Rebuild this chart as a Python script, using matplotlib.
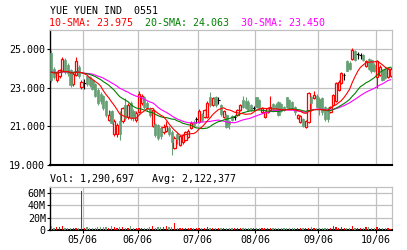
import matplotlib
matplotlib.use('Agg')
import matplotlib.pyplot as plt
import pandas as pd

# daily OHLC, mid-Apr to mid-Oct 2006
opens = [24.8, 24.0, 23.4, 23.6, 23.85, 24.45, 24.2, 23.95, 23.2, 23.65,
         24.1, 23.05, 23.25, 23.6, 23.55, 23.4, 23.2, 22.9, 22.7, 22.6,
         22.3, 21.35, 21.8, 20.6, 20.6, 21.3, 21.3, 22.1, 21.5, 22.2,
         21.8, 21.35, 21.75, 22.2, 22.5, 22.2, 21.9, 21.0, 21.1, 21.05,
         20.9, 20.7, 20.75, 20.9, 20.7, 19.9, 20.6, 20.05, 20.2, 20.3,
         20.45, 20.9, 21.25, 21.4, 21.25, 21.65, 21.5, 21.5, 22.5, 22.1,
         22.5, 22.35, 22.1, 21.5, 21.6, 21.3, 21.55, 21.5, 21.6, 21.85,
         22.35, 22.3, 22.25, 22.1, 21.95, 22.5, 22.35, 21.75, 21.5, 21.75,
         21.85, 22.15, 22.1, 22.25, 22.15, 22.0, 22.5, 22.35, 22.25, 22.0,
         21.45, 21.25, 21.4, 20.95, 21.25, 22.55, 22.45, 22.6, 22.4, 22.45,
         22.0, 21.95, 21.75, 22.1, 22.3, 22.9, 23.25, 23.65, 24.4, 24.3,
         24.5, 24.9, 24.75, 24.7, 24.7, 24.15, 24.5, 24.45, 24.2, 23.55,
         23.65, 23.9, 24.0, 23.55, 23.6]
closes = [23.4, 23.55, 23.8, 23.9, 24.5, 23.8, 23.75, 23.15, 23.7, 24.4,
          23.6, 23.3, 23.25, 23.2, 23.15, 22.95, 22.6, 22.2, 22.3, 21.95,
          21.6, 21.6, 21.2, 21.3, 21.05, 20.6, 21.95, 21.45, 22.1, 21.45,
          21.5, 21.7, 22.7, 22.6, 22.0, 21.9, 21.6, 21.85, 20.55, 20.4,
          20.5, 20.95, 21.0, 20.6, 20.2, 20.4, 20.35, 20.5, 20.55, 20.7,
          20.75, 21.2, 21.05, 21.4, 21.8, 21.35, 21.85, 22.2, 22.1, 22.45,
          22.1, 22.35, 21.65, 21.8, 20.95, 21.1, 21.35, 21.5, 21.85, 22.1,
          22.0, 21.95, 21.85, 21.85, 21.95, 22.0, 21.95, 21.95, 21.75, 21.95,
          22.0, 21.85, 21.9, 21.6, 21.8, 21.85, 22.0, 21.95, 21.95, 21.75,
          21.6, 21.55, 21.0, 21.3, 22.75, 22.2, 22.65, 22.0, 21.9, 21.75,
          21.4, 21.4, 22.0, 22.65, 23.25, 23.3, 23.75, 23.65, 23.9, 24.0,
          24.95, 24.45, 24.75, 24.7, 24.45, 24.4, 24.0, 23.85, 23.9, 24.4,
          24.1, 23.4, 23.5, 24.0, 24.0]
highs = [24.95, 24.1, 23.9, 24.0, 24.6, 24.55, 24.3, 24.0, 23.8, 24.6,
         24.2, 23.4, 23.45, 23.7, 23.6, 23.45, 23.25, 23.0, 22.8, 22.65,
         22.35, 21.85, 21.85, 21.4, 21.2, 21.8, 22.0, 22.45, 22.2, 22.3,
         21.9, 21.8, 22.85, 22.7, 22.6, 22.3, 22.0, 21.95, 21.2, 21.1,
         21.0, 21.1, 21.3, 21.0, 20.8, 20.5, 20.7, 20.55, 20.6, 20.75,
         20.85, 21.3, 21.35, 21.5, 21.9, 21.7, 21.9, 22.3, 22.8, 22.55,
         22.6, 22.55, 22.15, 21.85, 21.65, 21.35, 21.6, 21.6, 21.9, 22.15,
         22.6, 22.5, 22.35, 22.15, 22.05, 22.55, 22.4, 22.0, 21.8, 22.0,
         22.6, 22.2, 22.2, 22.3, 22.2, 22.05, 22.55, 22.4, 22.3, 22.05,
         21.65, 21.6, 21.45, 21.35, 22.8, 22.6, 22.85, 22.7, 22.5, 22.5,
         22.05, 22.0, 22.05, 22.7, 23.3, 23.4, 23.8, 23.75, 24.45, 24.4,
         25.05, 24.95, 24.85, 24.8, 24.75, 24.45, 24.55, 24.5, 24.3, 24.45,
         24.2, 24.0, 24.05, 24.05, 24.1]
lows = [23.3, 23.45, 23.3, 23.5, 23.8, 23.7, 23.6, 23.05, 23.1, 23.6,
        23.5, 22.95, 22.95, 23.1, 23.05, 22.9, 22.5, 22.1, 22.15, 21.85,
        21.5, 21.3, 21.1, 20.5, 20.45, 20.3, 21.2, 21.35, 21.4, 21.35,
        21.3, 21.25, 21.7, 22.1, 21.9, 21.8, 21.5, 20.95, 20.45, 20.3,
        20.35, 20.6, 20.7, 20.5, 19.5, 19.85, 20.1, 20.0, 20.1, 20.25,
        20.4, 20.85, 20.95, 21.2, 21.2, 21.25, 21.45, 21.45, 22.0, 22.05,
        22.0, 22.15, 21.55, 21.45, 20.9, 20.85, 21.3, 21.35, 21.55, 21.8,
        21.95, 21.9, 21.8, 21.8, 21.85, 21.95, 21.9, 21.7, 21.45, 21.7,
        21.8, 21.8, 21.85, 21.55, 21.75, 21.8, 21.95, 21.9, 21.9, 21.6,
        21.4, 21.2, 20.95, 20.9, 21.2, 21.8, 22.4, 21.95, 21.6, 21.6,
        21.3, 21.25, 21.7, 22.05, 22.25, 22.85, 23.2, 23.4, 23.85, 23.95,
        24.45, 24.4, 24.5, 24.5, 24.4, 24.1, 23.95, 23.75, 23.8, 23.0,
        23.6, 23.35, 23.45, 23.5, 23.55]
# closes before the visible window (only used for the moving averages)
pre_closes = [23.6, 23.9, 24.1, 23.8, 23.5, 23.7, 24.0, 23.9, 23.6, 23.8,
              24.2, 23.9, 23.7, 23.5, 23.8, 24.0, 23.9, 23.6, 23.7, 24.1,
              23.8, 23.9, 23.6, 23.8, 24.0, 23.7, 23.9, 23.8, 24.1]
# volume in millions of shares
volumes = [7.0, 3.5, 4.5, 5.5, 6.5, 4.0, 3.0, 2.5, 3.0, 4.0,
           4.0, 63.0, 3.0, 4.5, 3.5, 4.0, 4.0, 4.5, 4.5, 5.0,
           5.5, 4.0, 6.0, 5.0, 4.0, 4.5, 4.5, 4.0, 4.0, 6.0,
           3.5, 4.0, 3.5, 3.0, 3.0, 4.0, 4.5, 7.0, 3.5, 5.0,
           4.5, 5.5, 7.0, 4.5, 5.0, 10.5, 4.0, 3.5, 3.0, 4.0,
           4.0, 3.5, 3.0, 3.0, 4.0, 3.5, 3.0, 4.5, 4.0, 3.0,
           3.5, 4.0, 3.0, 3.0, 3.5, 2.5, 3.0, 3.0, 2.5, 3.0,
           3.0, 2.5, 2.5, 3.0, 3.5, 2.5, 2.5, 2.5, 3.0, 3.0,
           2.5, 2.5, 2.5, 3.0, 2.5, 2.5, 2.5, 3.0, 3.0, 3.5,
           3.0, 3.5, 3.0, 3.5, 4.0, 4.5, 3.5, 3.0, 4.0, 3.5,
           3.5, 3.0, 4.0, 6.0, 4.5, 4.0, 4.5, 3.5, 4.0, 4.0,
           6.0, 4.0, 4.0, 3.5, 4.0, 4.5, 4.5, 4.0, 4.0, 5.0,
           4.0, 3.5, 3.5, 3.0, 1.3]

month_pos = [11.5, 31.5, 53.5, 74.5, 97.5, 118.5]
month_labels = ['05/06', '06/06', '07/06', '08/06', '09/06', '10/06']
price_ticks = [19, 21, 23, 25]
vol_ticks = [0, 20, 40, 60]
vol_tick_labels = ['0', '20M', '40M', '60M']

RED = '#ff0000'
GREEN = '#669f74'
DGREEN = '#008000'
MAGENTA = '#ff00ff'
GRID = '#c0c0c0'
MONO = 'DejaVu Sans Mono'
FS = 7.2

n = len(closes)
xs = list(range(n))
all_closes = pd.Series(pre_closes + closes)
sma10 = all_closes.rolling(10).mean().iloc[-n:].values
sma20 = all_closes.rolling(20).mean().iloc[-n:].values
sma30 = all_closes.rolling(30).mean().iloc[-n:].values

fig = plt.figure(figsize=(4.07, 2.5), dpi=100)
ax = fig.add_axes([50 / 407, 85 / 250, 342 / 407, 135 / 250])
axv = fig.add_axes([50 / 407, 20 / 250, 342 / 407, 43 / 250])

# candles
up = [i for i in xs if closes[i] > opens[i]]
dn = [i for i in xs if closes[i] < opens[i]]
dj = [i for i in xs if closes[i] == opens[i]]
w = 0.8
ax.vlines(up, [lows[i] for i in up], [highs[i] for i in up], color=RED, lw=0.8, zorder=3)
ax.vlines(dn, [lows[i] for i in dn], [highs[i] for i in dn], color=GREEN, lw=0.8, zorder=3)
ax.vlines(dj, [lows[i] for i in dj], [highs[i] for i in dj], color='black', lw=0.8, zorder=3)
ax.hlines([closes[i] for i in dj], [i - 0.5 for i in dj], [i + 0.5 for i in dj], color='black', lw=0.8, zorder=3)
ax.bar(up, [closes[i] - opens[i] for i in up], bottom=[opens[i] for i in up], width=w,
       facecolor='white', edgecolor=RED, linewidth=0.9, zorder=4)
ax.bar(dn, [opens[i] - closes[i] for i in dn], bottom=[closes[i] for i in dn], width=w,
       facecolor=GREEN, edgecolor=GREEN, linewidth=0.5, zorder=4)

ax.plot(xs, sma30, color=MAGENTA, lw=0.8, zorder=5)
ax.plot(xs, sma20, color=DGREEN, lw=0.8, zorder=5)
ax.plot(xs, sma10, color=RED, lw=0.8, zorder=5)

ax.set_xlim(-0.5, n - 0.5)
ax.set_ylim(19, 26)
ax.set_yticks(price_ticks)
ax.set_yticklabels([f'{v:.3f}' for v in price_ticks], family=MONO, fontsize=FS)
ax.set_xticks(month_pos)
ax.set_xticklabels([])
ax.tick_params(axis='x', length=0)
ax.tick_params(axis='y', length=2, width=0.8, pad=1.5)
ax.grid(True, color=GRID, lw=0.9, zorder=0)
ax.set_axisbelow(True)

# volume
vcol = [RED if closes[i] >= opens[i] else GREEN for i in xs]
axv.bar(xs, volumes, width=0.45, color=vcol, zorder=3)
axv.set_xlim(-0.5, n - 0.5)
axv.set_ylim(0, 69)
axv.set_yticks(vol_ticks)
axv.set_yticklabels(vol_tick_labels, family=MONO, fontsize=FS)
axv.set_xticks(month_pos)
axv.set_xticklabels(month_labels, family=MONO, fontsize=FS)
axv.tick_params(axis='x', length=2, width=0.8, pad=1.5)
axv.tick_params(axis='y', length=2, width=0.8, pad=1)
axv.grid(True, color=GRID, lw=0.9, zorder=0)
axv.set_axisbelow(True)

for a in (ax, axv):
    a.spines['left'].set_color('black')
    a.spines['left'].set_linewidth(1.0)
    a.spines['bottom'].set_color('black')
    a.spines['bottom'].set_linewidth(1.5)
    a.spines['top'].set_color(GRID)
    a.spines['right'].set_color(GRID)
    a.spines['top'].set_linewidth(0.9)
    a.spines['right'].set_linewidth(0.9)

fig.text(50 / 407, 1 - 11 / 250, 'YUE YUEN IND  0551', family=MONO, fontsize=FS, va='center', ha='left')
fig.text(49 / 407, 1 - 23.5 / 250, '10-SMA: 23.975', family=MONO, fontsize=FS, color=RED, va='center', ha='left')
fig.text(145 / 407, 1 - 23.5 / 250, '20-SMA: 24.063', family=MONO, fontsize=FS, color=DGREEN, va='center', ha='left')
fig.text(241 / 407, 1 - 23.5 / 250, '30-SMA: 23.450', family=MONO, fontsize=FS, color=MAGENTA, va='center', ha='left')
fig.text(50 / 407, 1 - 179 / 250, 'Vol: 1,290,697   Avg: 2,122,377', family=MONO, fontsize=FS, va='center', ha='left')

fig.savefig('out.png', dpi=100)
